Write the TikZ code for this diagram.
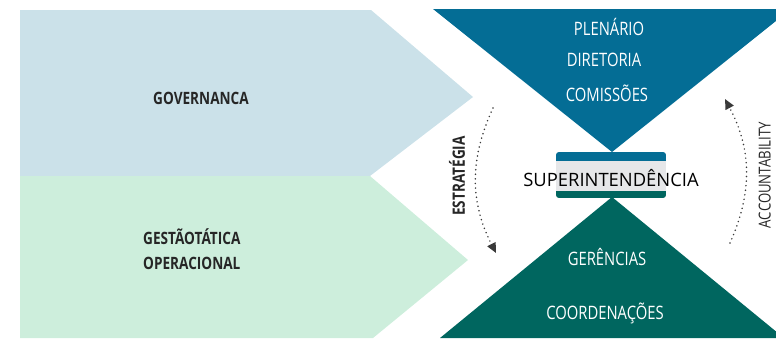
\documentclass[tikz,border=0pt]{standalone}
\usepackage{fontspec}
\setmainfont{Open Sans}
\newfontfamily\condfont{Open Sans}[FakeStretch=0.8]
\usetikzlibrary{calc, arrows.meta, positioning}
\definecolor{govblue}{HTML}{CBE1E9}
\definecolor{opgreen}{HTML}{CDEEDC}
\definecolor{topblue}{HTML}{046D95}
\definecolor{lowteal}{HTML}{00665F}
\definecolor{boxgray}{HTML}{E6E7E9}
\definecolor{labeltext}{HTML}{262626}
\definecolor{arrowgray}{HTML}{3A3A3A}

\tikzset{
  whitelabel/.style={inner sep=0pt, text=white, font=\condfont\fontsize{18.5}{20}\selectfont},
  boldlabel/.style={inner sep=0pt, text=labeltext, font=\condfont\bfseries\fontsize{17}{25}\selectfont},
  dotarrow/.style={arrowgray, line width=1.7pt, line cap=round, dash pattern=on 0pt off 4.6pt,
    -{Triangle[length=10pt, width=9pt]}}
}

\begin{document}
\begin{tikzpicture}[x=1pt, y=-1pt]
                \useasboundingbox (0,0) rectangle (776,338);

                % left chevrons
                \fill[govblue] (20,10) -- (371,10) -- (473,97) -- (370,176) -- (20,176) -- cycle;
                \fill[opgreen] (20,176) -- (370,176) -- (468,260) -- (373,338) -- (20,338) -- cycle;
                \node[boldlabel] (governanca) at (201,98) {GOVERNANCA};
                \node[boldlabel, anchor=west, align=left] (gestao) at (143,249.5) {GESTÃOTÁTICA\\OPERACIONAL};

                % hourglass
                \fill[topblue] (433,9) -- (791,9) -- (612,152) -- cycle;
                \fill[lowteal] (612,197) -- (784,338) -- (440,338) -- cycle;
                \node[whitelabel] (plenario) at (609,27) {PLENÁRIO};
                \node[whitelabel] (diretoria) at (604,60) {DIRETORIA};
                \node[whitelabel] (comissoes) at (607,93) {COMISSÕES};
                \node[whitelabel] (gerencias) at (607,257) {GERÊNCIAS};
                \node[whitelabel] (coordenacoes) at (605,313) {COORDENAÇÕES};

                % superintendencia box
                \begin{scope}
                  \clip[rounded corners=3pt] (556,152) rectangle (666,198);
                  \fill[boxgray] (556,152) rectangle (666,198);
                  \fill[topblue] (556,152) rectangle (666,161);
                  \fill[lowteal] (556,191) rectangle (666,198);
                \end{scope}
                \node[inner sep=0pt, text=black, font=\fontsize{18.4}{20}\selectfont] (superint) at (611,178) {SUPERINTENDÊNCIA};

                % side labels and loops
                \node[boldlabel, rotate=90] (estrategia) at (457,176) {ESTRATÉGIA};
                \node[inner sep=0pt, rotate=90, text=labeltext, font=\condfont\fontsize{16.5}{20}\selectfont, anchor=south] (accountability) at (771,175) {ACCOUNTABILITY};

                \coordinate (estTop) at (493,108);
                \coordinate (estEnd) at (496,253);
                \coordinate (accStart) at (730,243);
                \coordinate (accEnd) at (725,99);
                \draw[dotarrow] (estTop) to[bend right=26] (estEnd);
                \draw[dotarrow] (accStart) to[bend right=26] (accEnd);
            \end{tikzpicture}
\end{document}
